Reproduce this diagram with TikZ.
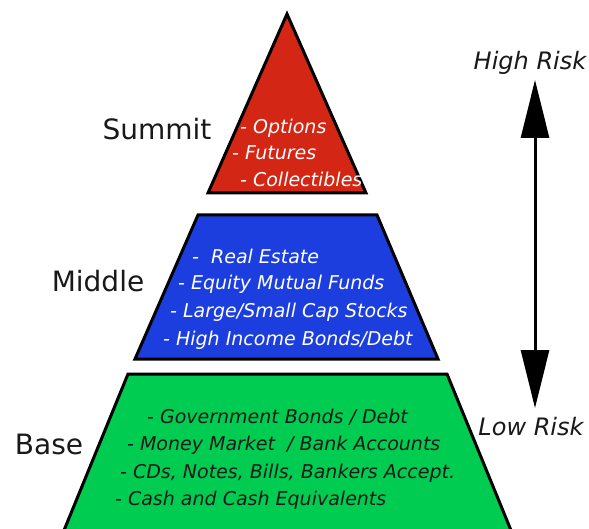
\documentclass[tikz,border=0pt]{standalone}
\usepackage{fontspec}
\setmainfont{DejaVu Sans}
\usetikzlibrary{arrows.meta}
\definecolor{summitred}{RGB}{212,38,20}
\definecolor{middleblue}{RGB}{28,62,222}
\definecolor{basegreen}{RGB}{0,204,82}
\definecolor{darktext}{RGB}{25,25,25}
\tikzset{
  tier/.style={draw=black,line width=3pt,line join=miter},
  lightitem/.style={anchor=west,inner sep=0pt,text=white,font=\fontsize{19}{21}\selectfont\itshape},
  darkitem/.style={anchor=west,inner sep=0pt,text=darktext,font=\fontsize{19}{21}\selectfont\itshape},
  tierlabel/.style={inner sep=0pt,text=darktext,font=\fontsize{28}{30}\selectfont},
  risklabel/.style={inner sep=0pt,text=darktext,font=\fontsize{24}{26}\selectfont\itshape},
}
\begin{document}
\begin{tikzpicture}[x=1pt,y=-1pt]
\useasboundingbox (0,0) rectangle (589,529);
\fill[white] (0,0) rectangle (589,529);
% tiers
\draw[tier,fill=basegreen] (128,374) -- (447,374) -- (517,545) -- (58,545) -- cycle;
\draw[tier,fill=middleblue] (198,215) -- (377,215) -- (438,359) -- (135,359) -- cycle;
\draw[tier,fill=summitred] (287,14) -- (366,193) -- (208,193) -- cycle;
% summit items
\node[lightitem] (s1) at (240,128) {- Options};
\node[lightitem] (s2) at (232,153) {- Futures};
\node[lightitem] (s3) at (240,179) {- Collectibles};
% middle items
\node[lightitem] (m1) at (192,256) {-\ \ Real Estate};
\node[lightitem] (m2) at (178,284) {- Equity Mutual Funds};
\node[lightitem] (m3) at (170,312) {- Large/Small Cap Stocks};
\node[lightitem] (m4) at (163,340) {- High Income Bonds/Debt};
% base items
\node[darkitem] (b1) at (147,417) {- Government Bonds / Debt};
\node[darkitem] (b2) at (127,445) {- Money Market \ / Bank Accounts};
\node[darkitem] (b3) at (120,473) {- CDs, Notes, Bills, Bankers Accept.};
\node[darkitem] (b4) at (115,500) {- Cash and Cash Equivalents};
% tier labels
\node[tierlabel] (summit) at (157,129) {Summit};
\node[tierlabel] (middle) at (98,281) {Middle};
\node[tierlabel] (base) at (49,444) {Base};
% risk scale
\node[risklabel] (high) at (530,63) {High Risk};
\node[risklabel] (low) at (531,427) {Low Risk};
\coordinate (arrtop) at (535,80);
\coordinate (arrbot) at (535,408);
\draw[line width=3pt,{Triangle[length=58pt,width=28pt]}-{Triangle[length=58pt,width=28pt]}] (arrtop) -- (arrbot);
\end{tikzpicture}
\end{document}
